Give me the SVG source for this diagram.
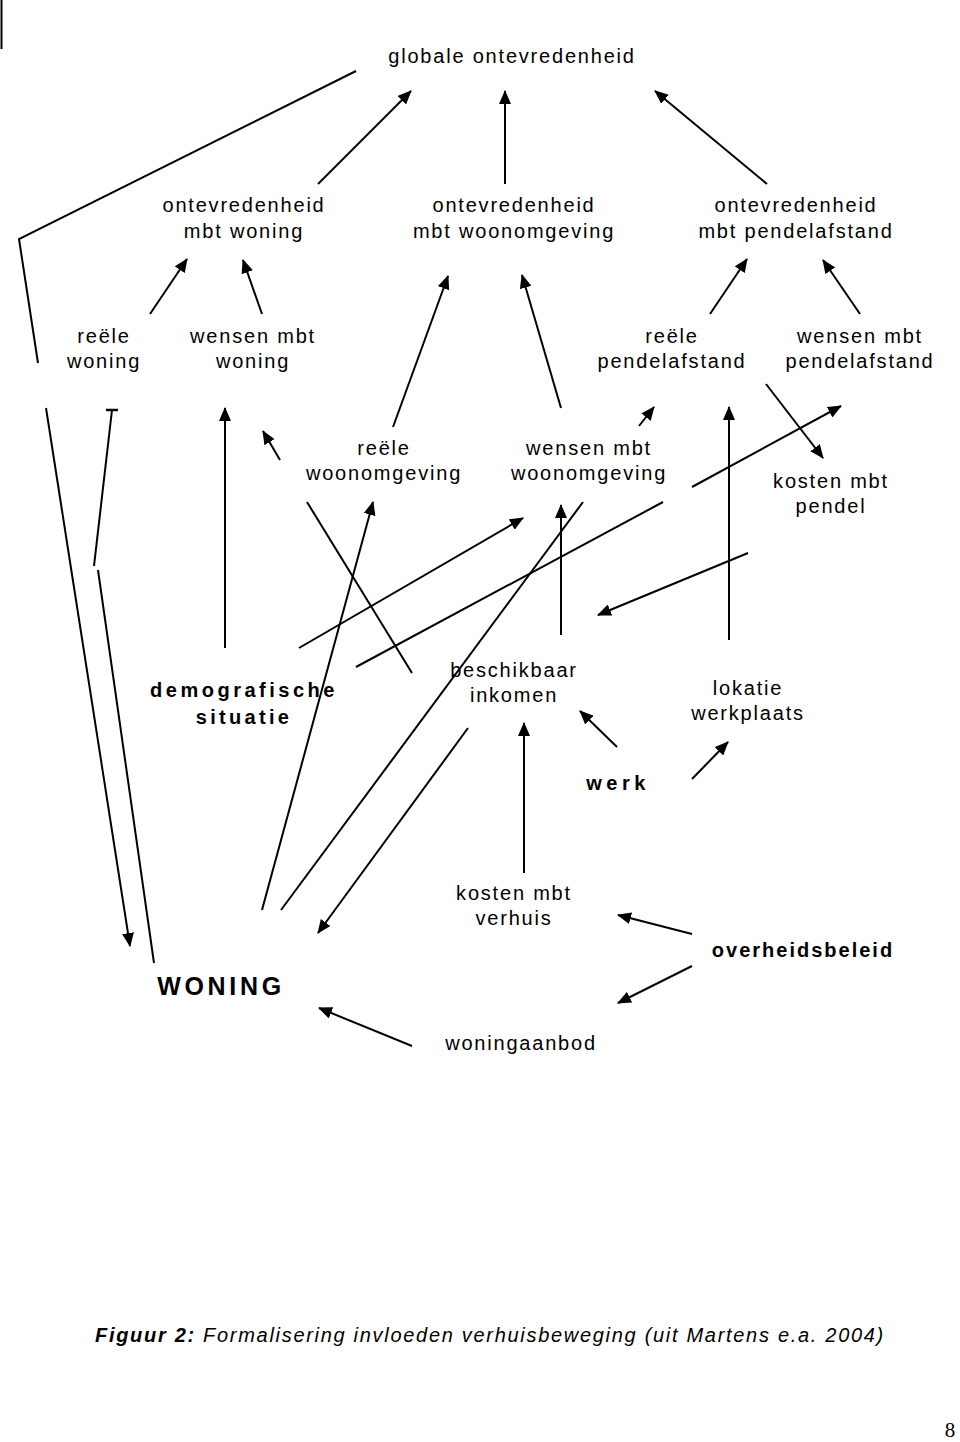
<svg xmlns="http://www.w3.org/2000/svg" width="960" height="1442" viewBox="0 0 960 1442">
<style>
.t{font-family:"Liberation Sans",Arial,Helvetica,sans-serif;font-size:20px;letter-spacing:1.8px;text-anchor:middle;fill:#000}
.b{font-weight:bold}
.c line,.c path{stroke:#000;stroke-width:2;fill:none}
.a{marker-end:url(#ah)}
</style>
<defs>
<marker id="ah" viewBox="0 0 14 12" refX="13" refY="6" markerWidth="14" markerHeight="12" markerUnits="userSpaceOnUse" orient="auto"><path d="M0,0 L14,6 L0,12 z" fill="#000"/></marker>
</defs>
<rect width="960" height="1442" fill="#fff"/>
<g id="connectors" class="c">
<line x1="1.5" y1="0" x2="1.5" y2="49"/>
<path d="M356,71 L19,239 L38,363"/>
<line class="a" x1="46" y1="408" x2="130" y2="946"/>
<line x1="154" y1="963" x2="98" y2="570"/>
<line x1="94" y1="566" x2="112" y2="410"/>
<line x1="106" y1="410" x2="118" y2="410" style="stroke-width:2.5"/>
<line class="a" x1="318" y1="184" x2="411" y2="91"/>
<line class="a" x1="505" y1="184" x2="505" y2="91"/>
<line class="a" x1="767" y1="184" x2="655" y2="91"/>
<line class="a" x1="150" y1="314" x2="187" y2="259"/>
<line class="a" x1="262" y1="314" x2="243" y2="260"/>
<line class="a" x1="710" y1="314" x2="747" y2="259"/>
<line class="a" x1="860" y1="314" x2="823" y2="260"/>
<line class="a" x1="393" y1="427" x2="448" y2="276"/>
<line class="a" x1="561" y1="408" x2="522" y2="275"/>
<line class="a" x1="225" y1="648" x2="225" y2="408"/>
<line class="a" x1="280" y1="460" x2="263" y2="431"/>
<line x1="307" y1="502" x2="412" y2="673"/>
<line class="a" x1="262" y1="910" x2="373" y2="502"/>
<line class="a" x1="299" y1="648" x2="523" y2="518"/>
<line x1="356" y1="667" x2="663" y2="502"/>
<line class="a" x1="692" y1="487" x2="841" y2="406"/>
<line x1="281" y1="910" x2="583" y2="502"/>
<line class="a" x1="561" y1="635" x2="561" y2="505"/>
<line class="a" x1="748" y1="553" x2="598" y2="615"/>
<line class="a" x1="729" y1="640" x2="729" y2="407"/>
<line class="a" x1="766" y1="384" x2="823" y2="458"/>
<line class="a" x1="639" y1="426" x2="654" y2="407"/>
<line class="a" x1="468" y1="728" x2="318" y2="933"/>
<line class="a" x1="524" y1="873" x2="524" y2="723"/>
<line class="a" x1="617" y1="747" x2="580" y2="711"/>
<line class="a" x1="692" y1="779" x2="728" y2="742"/>
<line class="a" x1="692" y1="934" x2="618" y2="915"/>
<line class="a" x1="692" y1="966" x2="618" y2="1003"/>
<line class="a" x1="412" y1="1046" x2="319" y2="1008"/>
</g>
<g id="globale"><text class="t" x="512" y="63">globale ontevredenheid</text></g>
<g id="ontevr-woning"><text class="t" x="244" y="212">ontevredenheid</text><text class="t" x="244" y="238">mbt woning</text></g>
<g id="ontevr-woonomgeving"><text class="t" x="514" y="212">ontevredenheid</text><text class="t" x="514" y="238">mbt woonomgeving</text></g>
<g id="ontevr-pendelafstand"><text class="t" x="796" y="212">ontevredenheid</text><text class="t" x="796" y="238">mbt pendelafstand</text></g>
<g id="reele-woning"><text class="t" x="104" y="343">reële</text><text class="t" x="104" y="368">woning</text></g>
<g id="wensen-woning"><text class="t" x="253" y="343">wensen mbt</text><text class="t" x="253" y="368">woning</text></g>
<g id="reele-pendelafstand"><text class="t" x="672" y="343">reële</text><text class="t" x="672" y="368">pendelafstand</text></g>
<g id="wensen-pendelafstand"><text class="t" x="860" y="343">wensen mbt</text><text class="t" x="860" y="368">pendelafstand</text></g>
<g id="reele-woonomgeving"><text class="t" x="384" y="455">reële</text><text class="t" x="384" y="480">woonomgeving</text></g>
<g id="wensen-woonomgeving"><text class="t" x="589" y="455">wensen mbt</text><text class="t" x="589" y="480">woonomgeving</text></g>
<g id="kosten-pendel"><text class="t" x="831" y="488">kosten mbt</text><text class="t" x="831" y="513">pendel</text></g>
<g id="demografische"><text class="t b" x="244" y="697" style="letter-spacing:3.5px">demografische</text><text class="t b" x="244" y="724" style="letter-spacing:3.3px">situatie</text></g>
<g id="inkomen"><text class="t" x="514" y="677">beschikbaar</text><text class="t" x="514" y="702">inkomen</text></g>
<g id="lokatie"><text class="t" x="748" y="695">lokatie</text><text class="t" x="748" y="720">werkplaats</text></g>
<g id="werk"><text class="t b" x="618" y="790" style="letter-spacing:4.5px">werk</text></g>
<g id="kosten-verhuis"><text class="t" x="514" y="900">kosten mbt</text><text class="t" x="514" y="925">verhuis</text></g>
<g id="overheidsbeleid"><text class="t b" x="803" y="957" style="letter-spacing:2px">overheidsbeleid</text></g>
<g id="WONING"><text class="t b" x="221" y="995" style="font-size:25px;letter-spacing:3.7px">WONING</text></g>
<g id="woningaanbod"><text class="t" x="521" y="1050">woningaanbod</text></g>
<g id="caption"><text x="95" y="1342" style="font-family:'Liberation Sans',Arial,sans-serif;font-size:20px;font-style:italic;letter-spacing:1.7px;fill:#000"><tspan font-weight="bold">Figuur 2:</tspan> Formalisering invloeden verhuisbeweging (uit Martens e.a. 2004)</text></g>
<g id="page-number"><text x="950" y="1437" style="font-family:'Liberation Serif','Times New Roman',serif;font-size:21px;text-anchor:middle;fill:#000">8</text></g>
</svg>
